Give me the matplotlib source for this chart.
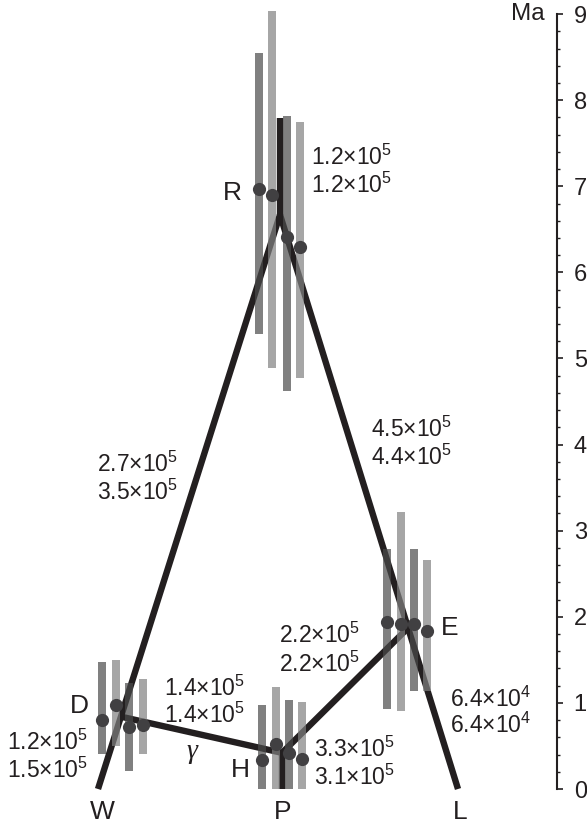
import numpy as np
import matplotlib
matplotlib.use("Agg")
import matplotlib.pyplot as plt

plt.rcParams['font.family'] = ['Liberation Sans', 'DejaVu Sans']
plt.rcParams['mathtext.fontset'] = 'custom'
plt.rcParams['mathtext.rm'] = 'Liberation Sans'
plt.rcParams['mathtext.it'] = 'Liberation Sans:italic'

# tree nodes: horizontal place and age in Ma
node_names = ["root", "R", "W", "L", "P", "D", "E", "H"]
node_x = [280, 280, 98, 458, 282, 121, 408, 282]
node_age = [7.79, 6.67, 0.0, 0.0, 0.0, 0.84, 1.87, 0.42]
edges = [("root", "R"), ("R", "W"), ("R", "L"), ("D", "H"), ("E", "H"), ("H", "P")]

# 95% intervals of node ages, four runs per node
R_x = [259, 272, 287, 300]
R_lo = [5.28, 4.89, 4.62, 4.77]
R_hi = [8.55, 9.04, 7.82, 7.75]
R_mean = [6.97, 6.90, 6.41, 6.29]

D_x = [102, 116, 129, 143]
D_lo = [0.41, 0.50, 0.21, 0.41]
D_hi = [1.47, 1.50, 1.23, 1.28]
D_mean = [0.80, 0.98, 0.72, 0.74]

H_x = [262, 276, 289, 302]
H_lo = [0.0, 0.0, 0.0, 0.0]
H_hi = [0.98, 1.18, 1.03, 1.01]
H_mean = [0.34, 0.52, 0.42, 0.35]

E_x = [387, 401, 414, 427]
E_lo = [0.93, 0.91, 1.14, 1.14]
E_hi = [2.79, 3.22, 2.79, 2.66]
E_mean = [1.94, 1.92, 1.92, 1.84]

# population sizes (theta) printed on branches
theta_R = ["1.2×10$^{5}$", "1.2×10$^{5}$"]
theta_W = ["2.7×10$^{5}$", "3.5×10$^{5}$"]
theta_L = ["4.5×10$^{5}$", "4.4×10$^{5}$"]
theta_D = ["1.2×10$^{5}$", "1.5×10$^{5}$"]
theta_DH = ["1.4×10$^{5}$", "1.4×10$^{5}$"]
theta_HP = ["3.3×10$^{5}$", "3.1×10$^{5}$"]
theta_EH = ["2.2×10$^{5}$", "2.2×10$^{5}$"]
theta_EL = ["6.4×10$^{4}$", "6.4×10$^{4}$"]

ticks = np.arange(0, 10)

black = "#231f20"
dark = "#4a4a4a"
light = "#818181"
dot = "#414042"


def py(y):
    # pixel row -> Ma
    return (789 - y) / 86.1


fig = plt.figure(figsize=(5.87, 8.25), dpi=100)
ax = fig.add_axes([0, 0, 1, 1])
ax.set_xlim(0, 587)
ax.set_ylim(py(825), py(0))

for a, b in edges:
    i, j = node_names.index(a), node_names.index(b)
    ax.plot([node_x[i], node_x[j]], [node_age[i], node_age[j]], color=black,
            lw=4.6, solid_capstyle='butt', solid_joinstyle='miter', zorder=1)

for xs, lo, hi, mean in [(R_x, R_lo, R_hi, R_mean), (D_x, D_lo, D_hi, D_mean),
                         (H_x, H_lo, H_hi, H_mean), (E_x, E_lo, E_hi, E_mean)]:
    cols = [dark, light, dark, light]
    ax.bar(xs, np.array(hi) - np.array(lo), bottom=lo, width=8, color=cols,
           alpha=0.7, linewidth=0, zorder=2)
    ax.plot(xs, mean, 'o', ms=9.5, color=dot, mec='none', zorder=3)

lab = dict(fontsize=19, color=black, ha='center', va='baseline')
ax.text(232, py(200), "R", **lab)
ax.text(79, py(713), "D", **lab)
ax.text(240, py(777), "H", **lab)
ax.text(450, py(635), "E", **lab)
ax.text(102, py(819), "W", **lab)
ax.text(283, py(819), "P", **lab)
ax.text(460, py(819), "L", **lab)
ax.text(192, py(758), "γ", fontsize=20, family='Liberation Serif', style='italic',
        color=black, ha='center', va='baseline')

num = dict(fontsize=16.5, color=black, ha='left', va='baseline')
for txt, x, y0, y1 in [(theta_R, 311, 165, 193), (theta_W, 97, 472, 500),
                       (theta_L, 371, 437, 465), (theta_D, 7, 750, 778),
                       (theta_DH, 164, 696, 723), (theta_HP, 314, 757, 785),
                       (theta_EH, 279, 643, 672), (theta_EL, 450, 707, 733)]:
    ax.text(x, py(y0), txt[0], **num)
    ax.text(x, py(y1), txt[1], **num)

# time axis
for s in ['top', 'left', 'bottom']:
    ax.spines[s].set_visible(False)
ax.spines['right'].set_position(('data', 557))
ax.spines['right'].set_bounds(0, 9)
ax.spines['right'].set_linewidth(1.5)
ax.spines['right'].set_color(black)
ax.xaxis.set_visible(False)
ax.yaxis.tick_right()
ax.set_yticks(ticks)
ax.set_yticks(np.arange(0, 9.01, 0.2), minor=True)
ax.tick_params(axis='y', which='major', direction='out', length=4, width=1.2,
               color=black, labelsize=17, labelcolor=black, pad=8)
ax.tick_params(axis='y', which='minor', direction='out', length=2.2, width=1.0,
               color=black)
ax.text(545, 9, "Ma", fontsize=17.5, color=black, ha='right', va='center')

fig.savefig("out.png", dpi=100)
